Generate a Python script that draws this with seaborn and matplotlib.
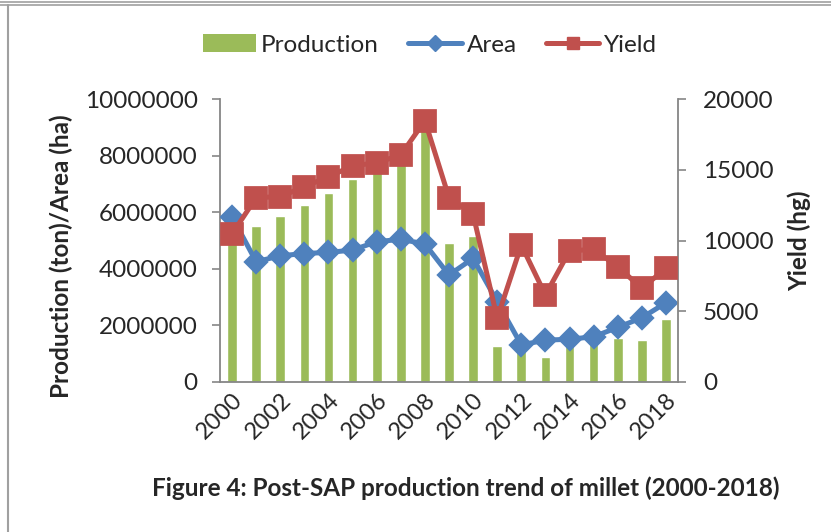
import pandas as pd
import matplotlib.pyplot as plt
import seaborn as sns
from matplotlib.lines import Line2D
from matplotlib.patches import Patch

# Data
years = [str(y) for y in range(2000, 2019)]
production = [6100000, 5510000, 5880000, 6250000, 6690000, 7160000, 7600000, 8100000, 9150000,
              4910000, 5170000, 1270000, 1200000, 890000, 1400000, 1500000, 1540000, 1500000, 2230000]
area = [5840000, 4250000, 4460000, 4540000, 4580000, 4660000, 4960000, 5040000, 4880000,
        3780000, 4370000, 2840000, 1310000, 1480000, 1510000, 1600000, 1930000, 2270000, 2800000]
yield_hg = [10460, 13030, 13100, 13800, 14510, 15270, 15500, 16040, 18470,
            13030, 11850, 4500, 9680, 6150, 9260, 9380, 8150, 6620, 8040]
year_labels = [y if int(y) % 2 == 0 else "" for y in years]

df = pd.DataFrame({"Year": years, "Production": production, "Area": area, "Yield": yield_hg})

green = "#9BBB59"
blue = "#4F81BD"
red = "#C0504D"
grey = "#868686"

sns.set_style("white")
plt.rcParams["font.family"] = ["Lato", "DejaVu Sans"]

fig = plt.figure(figsize=(8.31, 5.32), dpi=100)
ax = fig.add_axes([220 / 831, 1 - 382 / 532, 458 / 831, 283 / 532])

sns.barplot(data=df, x="Year", y="Production", color=green, width=0.4,
            saturation=1, ax=ax, zorder=1)
sns.pointplot(data=df, x="Year", y="Area", color=blue, markers="D", markersize=10,
              linewidth=3.6, ax=ax, zorder=3)

ax2 = ax.twinx()
sns.pointplot(data=df, x="Year", y="Yield", color=red, markers="s", markersize=14,
              linewidth=3.6, ax=ax2, zorder=4)

ax.set_xlim(-0.5, len(years) - 0.5)
ax.set_ylim(0, 10000000)
ax2.set_ylim(0, 20000)
ax.set_yticks(range(0, 10000001, 2000000))
ax2.set_yticks(range(0, 20001, 5000))
ax.yaxis.set_major_formatter(plt.FuncFormatter(lambda v, p: f"{int(v)}"))
ax2.yaxis.set_major_formatter(plt.FuncFormatter(lambda v, p: f"{int(v)}"))

# category ticks between bars, labels on every other year
ax.set_xticks(range(len(years)))
ax.set_xticklabels(year_labels, rotation=45, ha="right", rotation_mode="anchor")
ax.set_xticks([i - 0.5 for i in range(len(years) + 1)], minor=True)
ax.tick_params(axis="x", which="major", length=0, pad=5, labelsize=17)
ax.tick_params(axis="x", which="minor", length=6, width=1.2, color=grey, direction="out")
ax.tick_params(axis="y", length=6, width=1.2, color=grey, direction="out", pad=10, labelsize=17.5, left=True)
ax2.tick_params(axis="y", length=6, width=1.2, color=grey, direction="out", pad=12, labelsize=17.5, right=True)

for a in (ax, ax2):
    a.spines["top"].set_visible(False)
    for s in ("left", "right", "bottom"):
        a.spines[s].set_color(grey)
        a.spines[s].set_linewidth(1.3)
ax.spines["right"].set_visible(False)
ax2.spines["left"].set_visible(False)
ax2.spines["bottom"].set_visible(False)

ax.set_xlabel("")
ax.set_ylabel("Production (ton)/Area (ha)", fontsize=17.5, fontweight="bold")
ax2.set_ylabel("Yield (hg)", fontsize=17.5, fontweight="bold")
ax.yaxis.set_label_coords(-0.32, 0.445)
ax2.yaxis.set_label_coords(1.24, 0.5)

handles = [Patch(facecolor=green, edgecolor="none"),
           Line2D([], [], color=blue, lw=3.6, marker="D", markersize=8),
           Line2D([], [], color=red, lw=3.6, marker="s", markersize=9)]
fig.legend(handles, ["Production", "Area", "Yield"], loc="center", bbox_to_anchor=(430 / 831, 1 - 45 / 532),
           ncol=3, frameon=False, fontsize=17.5, handlelength=2.2, handletextpad=0.2, columnspacing=1.2)

fig.text(466 / 831, 1 - 488 / 532, "Figure 4: Post-SAP production trend of millet (2000-2018)",
         ha="center", va="center", fontsize=17.5, fontweight="bold")

# page border lines from the screenshot
fig.add_artist(Line2D([0, 1], [1 - 2 / 532, 1 - 2 / 532], color="#A0A0A0", lw=1.2))
fig.add_artist(Line2D([0, 1], [1 - 5 / 532, 1 - 5 / 532], color="#A0A0A0", lw=1.2))
fig.add_artist(Line2D([8 / 831, 8 / 831], [0, 1 - 5 / 532], color="#A0A0A0", lw=1.5))

fig.savefig("out.png", dpi=100)
